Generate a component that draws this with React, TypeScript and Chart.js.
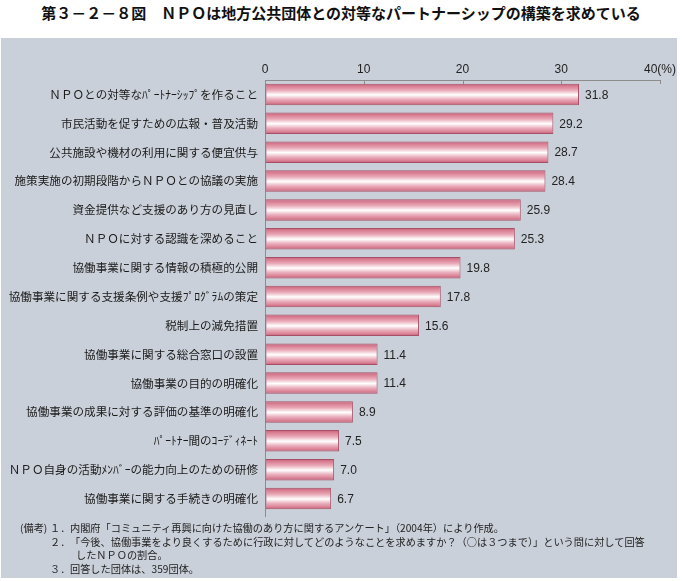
import React, { useEffect, useRef } from "react";
import { Chart, registerables } from "chart.js";

Chart.register(...registerables);

const titleText = "第３－２－８図　ＮＰＯは地方公共団体との対等なパートナーシップの構築を求めている";

const categories = [
  "ＮＰＯとの対等なﾊﾟｰﾄﾅｰｼｯﾌﾟを作ること",
  "市民活動を促すための広報・普及活動",
  "公共施設や機材の利用に関する便宜供与",
  "施策実施の初期段階からＮＰＯとの協議の実施",
  "資金提供など支援のあり方の見直し",
  "ＮＰＯに対する認識を深めること",
  "協働事業に関する情報の積極的公開",
  "協働事業に関する支援条例や支援ﾌﾟﾛｸﾞﾗﾑの策定",
  "税制上の減免措置",
  "協働事業に関する総合窓口の設置",
  "協働事業の目的の明確化",
  "協働事業の成果に対する評価の基準の明確化",
  "ﾊﾟｰﾄﾅｰ間のｺｰﾃﾞｨﾈｰﾄ",
  "ＮＰＯ自身の活動ﾒﾝﾊﾞｰの能力向上のための研修",
  "協働事業に関する手続きの明確化",
];

const values = [31.8, 29.2, 28.7, 28.4, 25.9, 25.3, 19.8, 17.8, 15.6, 11.4, 11.4, 8.9, 7.5, 7.0, 6.7];

const xTicks = [0, 10, 20, 30, 40];
const xTickLabels = ["0", "10", "20", "30", "40(%)"];

const noteHead = "(備考)";
const notes = [
  { num: "１．", text: "内閣府「コミュニティ再興に向けた協働のあり方に関するアンケート」（2004年）により作成。" },
  { num: "２．", text: "「今後、協働事業をより良くするために行政に対してどのようなことを求めますか？（○は３つまで）」という問に対して回答" },
  { num: "", text: "したＮＰＯの割合。" },
  { num: "３．", text: "回答した団体は、359団体。" },
];

const BAR_PCT = 0.745;

export default function App() {
  const canvasRef = useRef<HTMLCanvasElement | null>(null);

  useEffect(() => {
    const canvas = canvasRef.current;
    if (!canvas) return;

    const tickMarks = {
      id: "tickMarks",
      beforeDatasetsDraw(chart: any) {
        const { ctx, chartArea } = chart;
        const xs = chart.scales.x;
        ctx.save();
        ctx.strokeStyle = "#8c8c8c";
        ctx.lineWidth = 1;
        xTicks.forEach((v) => {
          const px = Math.round(xs.getPixelForValue(v)) + 0.5;
          ctx.beginPath();
          ctx.moveTo(px, chartArea.top);
          ctx.lineTo(px, chartArea.top + 4);
          ctx.stroke();
        });
        const x0 = Math.round(xs.getPixelForValue(0)) + 0.5;
        ctx.beginPath();
        ctx.moveTo(x0, chartArea.bottom);
        ctx.lineTo(x0, chartArea.bottom + 4);
        ctx.stroke();
        ctx.restore();
      },
    };

    const valueLabels = {
      id: "valueLabels",
      afterDatasetsDraw(chart: any) {
        const { ctx } = chart;
        const meta = chart.getDatasetMeta(0);
        ctx.save();
        ctx.font = '12px "Liberation Sans", Arial, sans-serif';
        ctx.fillStyle = "#222";
        ctx.textAlign = "left";
        ctx.textBaseline = "middle";
        meta.data.forEach((el: any, i: number) => {
          ctx.fillText(values[i].toFixed(1), el.x + 6, el.y + 1);
        });
        ctx.restore();
      },
    };

    const chart = new Chart(canvas, {
      type: "bar",
      data: {
        labels: categories,
        datasets: [
          {
            data: values,
            borderColor: "#a65068",
            borderWidth: 1,
            borderSkipped: false,
            barPercentage: BAR_PCT,
            categoryPercentage: 1,
            backgroundColor: (c: any) => {
              const ch = c.chart;
              const ys = ch.scales && ch.scales.y;
              if (!ys || c.dataIndex == null) return "#e090a0";
              const center = ys.getPixelForValue(c.dataIndex);
              const half = (ys.height / categories.length) * BAR_PCT / 2;
              if (!isFinite(center) || !isFinite(half) || half <= 0) return "#e090a0";
              const g = ch.ctx.createLinearGradient(0, center - half, 0, center + half);
              g.addColorStop(0, "#c65c76");
              g.addColorStop(0.12, "#d97e92");
              g.addColorStop(0.3, "#e8a8b6");
              g.addColorStop(0.52, "#ffffff");
              g.addColorStop(0.72, "#eab0bd");
              g.addColorStop(0.88, "#db8498");
              g.addColorStop(1, "#c45a74");
              return g;
            },
          },
        ],
      },
      options: {
        indexAxis: "y",
        responsive: false,
        animation: false,
        devicePixelRatio: 1,
        layout: { padding: { left: 0, right: 22, top: 0, bottom: 68 } },
        plugins: {
          legend: { display: false },
          tooltip: { enabled: false },
          title: { display: false },
        },
        scales: {
          x: {
            position: "top",
            min: 0,
            max: 40,
            afterFit: (s: any) => {
              s.height = 80;
            },
            afterBuildTicks: (s: any) => {
              s.ticks = xTicks.map((v) => ({ value: v }));
            },
            ticks: {
              callback: (v: any) => {
                const i = xTicks.indexOf(Number(v));
                return i >= 0 ? xTickLabels[i] : "";
              },
              font: { family: '"Liberation Sans", Arial, sans-serif', size: 12 },
              color: "#222",
              padding: 3,
              maxRotation: 0,
            },
            grid: { display: true, drawOnChartArea: false, drawTicks: false },
            border: { display: true, color: "#8c8c8c", width: 1 },
          },
          y: {
            afterFit: (s: any) => {
              s.width = 265;
            },
            ticks: {
              autoSkip: false,
              font: { family: '"Noto Sans CJK JP", sans-serif', size: 11.6 },
              color: "#1a1a1a",
              padding: 7,
            },
            grid: { display: true, drawOnChartArea: false, drawTicks: false },
            border: { display: true, color: "#8c8c8c", width: 1 },
          },
        },
      } as any,
      plugins: [tickMarks, valueLabels],
    });

    return () => {
      chart.destroy();
    };
  }, []);

  const noteFont: React.CSSProperties = {
    position: "absolute",
    fontFamily: '"Noto Sans CJK JP", sans-serif',
    fontSize: "10.2px",
    lineHeight: "13px",
    color: "#222",
    whiteSpace: "nowrap",
  };

  const lineTops = [521, 535, 548, 562];

  return (
    <div
      style={{
        position: "absolute",
        left: 0,
        top: 0,
        width: 682,
        height: 581,
        background: "#ffffff",
        overflow: "hidden",
      }}
    >
      <div
        style={{
          position: "absolute",
          left: 0,
          top: 3,
          width: 682,
          textAlign: "center",
          fontFamily: '"Noto Sans CJK JP", sans-serif',
          fontWeight: 700,
          fontSize: "15px",
          lineHeight: "20px",
          color: "#111",
          whiteSpace: "nowrap",
        }}
      >
        {titleText}
      </div>
      <div
        style={{
          position: "absolute",
          left: 1,
          top: 38,
          width: 676,
          height: 540,
          background: "#cad0d9",
        }}
      />
      <canvas
        ref={canvasRef}
        width={682}
        height={581}
        style={{ position: "absolute", left: 0, top: 0, width: 682, height: 581 }}
      />
      <div style={{ ...noteFont, left: 20, top: lineTops[0] }}>{noteHead}</div>
      {notes.map((n, i) => (
        <React.Fragment key={i}>
          {n.num ? <div style={{ ...noteFont, left: 50, top: lineTops[i] }}>{n.num}</div> : null}
          <div style={{ ...noteFont, left: n.num ? 70 : 76, top: lineTops[i] }}>{n.text}</div>
        </React.Fragment>
      ))}
    </div>
  );
}
